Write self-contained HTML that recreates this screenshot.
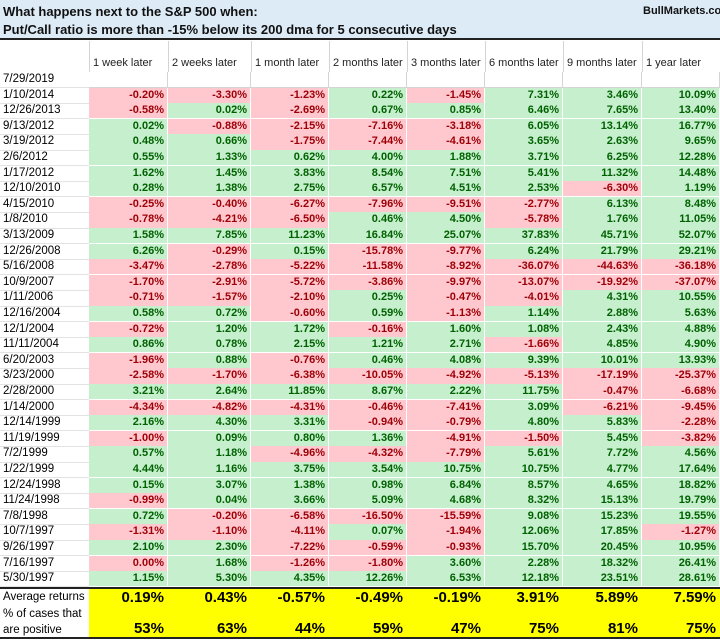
<!DOCTYPE html>
<html><head><meta charset="utf-8">
<style>
body{margin:0;width:720px;height:641px;background:#fff;position:relative;overflow:hidden;font-family:"Liberation Sans",sans-serif;}
.a{position:absolute;box-sizing:border-box;}
.c{font-size:11px;font-weight:bold;text-align:right;padding-right:3px;line-height:15px;border-right:1px solid #fff;border-bottom:1px solid #fff;}
.d{font-size:11.5px;line-height:15px;padding-left:3px;border-bottom:1px solid #e3e3e3;}
.h{font-size:11px;color:#222;line-height:15px;padding-left:3px;}
</style></head><body>
<div class="a" style="left:0;top:0;width:720px;height:40px;background:#ddebf7;border-bottom:2px solid #222;"></div>
<div class="a" style="left:3px;top:4px;font-size:13px;font-weight:bold;color:#111;">What happens next to the S&amp;P 500 when:</div>
<div class="a" style="left:3px;top:22px;font-size:13px;font-weight:bold;color:#111;">Put/Call ratio is more than -15% below its 200 dma for 5 consecutive days</div>
<div class="a" style="left:643px;top:5px;font-size:11px;font-weight:bold;color:#111;">BullMarkets.co</div>
<div id="t"></div>
<script>
const horizons=["1 week later","2 weeks later","1 month later","2 months later","3 months later","6 months later","9 months later","1 year later"];
const dates=["7/29/2019","1/10/2014","12/26/2013","9/13/2012","3/19/2012","2/6/2012","1/17/2012","12/10/2010","4/15/2010","1/8/2010","3/13/2009","12/26/2008","5/16/2008","10/9/2007","1/11/2006","12/16/2004","12/1/2004","11/11/2004","6/20/2003","3/23/2000","2/28/2000","1/14/2000","12/14/1999","11/19/1999","7/2/1999","1/22/1999","12/24/1998","11/24/1998","7/8/1998","10/7/1997","9/26/1997","7/16/1997","5/30/1997"];
const returns=[null,
[-0.20,-3.30,-1.23,0.22,-1.45,7.31,3.46,10.09],
[-0.58,0.02,-2.69,0.67,0.85,6.46,7.65,13.40],
[0.02,-0.88,-2.15,-7.16,-3.18,6.05,13.14,16.77],
[0.48,0.66,-1.75,-7.44,-4.61,3.65,2.63,9.65],
[0.55,1.33,0.62,4.00,1.88,3.71,6.25,12.28],
[1.62,1.45,3.83,8.54,7.51,5.41,11.32,14.48],
[0.28,1.38,2.75,6.57,4.51,2.53,-6.30,1.19],
[-0.25,-0.40,-6.27,-7.96,-9.51,-2.77,6.13,8.48],
[-0.78,-4.21,-6.50,0.46,4.50,-5.78,1.76,11.05],
[1.58,7.85,11.23,16.84,25.07,37.83,45.71,52.07],
[6.26,-0.29,0.15,-15.78,-9.77,6.24,21.79,29.21],
[-3.47,-2.78,-5.22,-11.58,-8.92,-36.07,-44.63,-36.18],
[-1.70,-2.91,-5.72,-3.86,-9.97,-13.07,-19.92,-37.07],
[-0.71,-1.57,-2.10,0.25,-0.47,-4.01,4.31,10.55],
[0.58,0.72,-0.60,0.59,-1.13,1.14,2.88,5.63],
[-0.72,1.20,1.72,-0.16,1.60,1.08,2.43,4.88],
[0.86,0.78,2.15,1.21,2.71,-1.66,4.85,4.90],
[-1.96,0.88,-0.76,0.46,4.08,9.39,10.01,13.93],
[-2.58,-1.70,-6.38,-10.05,-4.92,-5.13,-17.19,-25.37],
[3.21,2.64,11.85,8.67,2.22,11.75,-0.47,-6.68],
[-4.34,-4.82,-4.31,-0.46,-7.41,3.09,-6.21,-9.45],
[2.16,4.30,3.31,-0.94,-0.79,4.80,5.83,-2.28],
[-1.00,0.09,0.80,1.36,-4.91,-1.50,5.45,-3.82],
[0.57,1.18,-4.96,-4.32,-7.79,5.61,7.72,4.56],
[4.44,1.16,3.75,3.54,10.75,10.75,4.77,17.64],
[0.15,3.07,1.38,0.98,6.84,8.57,4.65,18.82],
[-0.99,0.04,3.66,5.09,4.68,8.32,15.13,19.79],
[0.72,-0.20,-6.58,-16.50,-15.59,9.08,15.23,19.55],
[-1.31,-1.10,-4.11,0.07,-1.94,12.06,17.85,-1.27],
[2.10,2.30,-7.22,-0.59,-0.93,15.70,20.45,10.95],
[0.00,1.68,-1.26,-1.80,3.60,2.28,18.32,26.41],
[1.15,5.30,4.35,12.26,6.53,12.18,23.51,28.61]];
const averages=[0.19,0.43,-0.57,-0.49,-0.19,3.91,5.89,7.59];
const positivePct=[53,63,44,59,47,75,81,75];

const colX=[0,89,168,251,329,407,485,563,642,720];
const top0=72, rowH=15.6;
const root=document.getElementById('t');
function mk(cls,l,t,w,h,txt,style){const e=document.createElement('div');e.className='a '+cls;e.style.left=l+'px';e.style.top=t+'px';e.style.width=w+'px';e.style.height=h+'px';if(style)e.style.cssText+=style;e.textContent=txt;root.appendChild(e);return e;}
for(let j=0;j<horizons.length;j++){
  const e=mk('h',colX[j+1],41,colX[j+2]-colX[j+1],31,horizons[j],'padding-top:15px;border-left:1px solid #d4d4d4;');
  
  
}
for(let i=0;i<dates.length;i++){
  const y=top0+i*rowH;
  const d=mk('d',0,y,89,rowH+0.6,dates[i]);
  
  
  const r=returns[i];
  for(let j=0;j<horizons.length;j++){
    const x=colX[j+1],w=colX[j+2]-x;
    let bg='#fff',col='#000',txt='';
    if(r){const v=r[j];const pos=v>0;bg=pos?'#c6efce':'#ffc7ce';col=pos?'#006100':'#9c0006';txt=v.toFixed(2)+'%';}
    const c=mk('c',x,y,w,rowH+0.6,txt,'background:'+bg+';color:'+col+';'+(r?'':'border-right:1px solid #d4d4d4;border-bottom:1px solid #d4d4d4;'));
    
    
  }
}
const yEnd=top0+dates.length*rowH;
const line=mk('',0,yEnd,720,2,'','background:#222;');


const ay=yEnd+2;
const al=mk('',3,ay,86,16,'Average returns','font-size:11.5px;line-height:16px;');


const pl=mk('',3,ay+17,86,32,'% of cases that are positive','font-size:11.5px;line-height:16px;');


const yb=mk('',89,ay,631,48,'','background:#ffff00;');


for(let j=0;j<horizons.length;j++){
  const x=colX[j+1],w=colX[j+2]-x;
  const a=mk('',x,ay,w,17,averages[j].toFixed(2)+'%','font-size:15px;font-weight:bold;text-align:right;padding-right:4px;line-height:17px;');
  
  
  const p=mk('',x,ay+32,w,16,positivePct[j]+'%','font-size:15px;font-weight:bold;text-align:right;padding-right:4px;line-height:16px;');
  
  
}
const bl=mk('',0,ay+48,720,2,'','background:#222;');


</script>
</body></html>
